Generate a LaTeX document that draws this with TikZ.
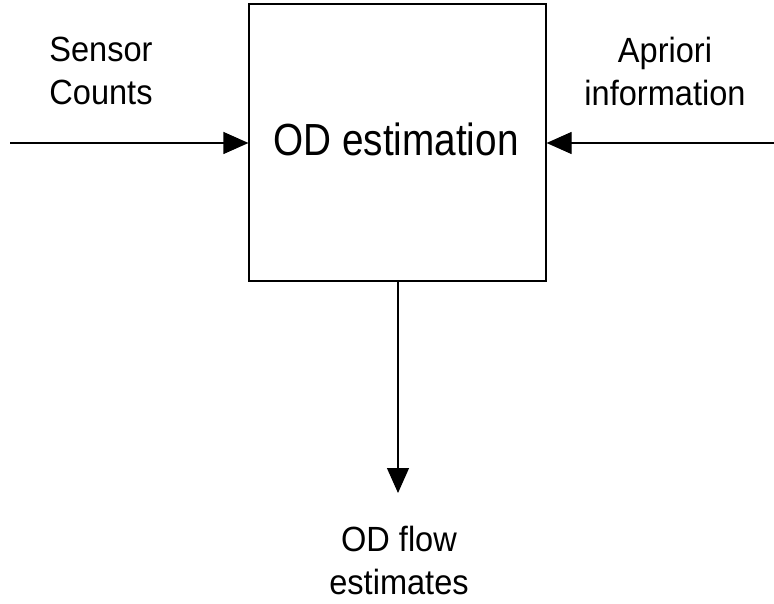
\documentclass[tikz,border=0pt]{standalone}
\usepackage{fontspec}
\setmainfont{Liberation Sans}
\newfontfamily\narrowfont[FakeStretch=0.93]{Liberation Sans}
\newfontfamily\titlefont[FakeStretch=0.86]{Liberation Sans}
\usetikzlibrary{arrows.meta}
\begin{document}
\begin{tikzpicture}[x=1pt,y=-1pt,
  lbl/.style={align=center,font=\narrowfont\fontsize{35}{43}\selectfont,inner sep=0pt},
  conn/.style={line width=1.2pt,-{Triangle[length=25pt,width=22pt]}}]
\useasboundingbox (0,0) rectangle (774,604);
\node[draw,line width=1.2pt,minimum width=297pt,minimum height=277pt,inner sep=0pt] (box) at (397.5,142.5) {};
\node[font=\titlefont\fontsize{45}{48}\selectfont,inner sep=0pt,anchor=base] (title) at (396,156) {OD estimation};
\node[lbl] (sensor) at (101,70.5) {Sensor\\Counts};
\node[lbl] (apriori) at (665,71) {Apriori\\information};
\node[lbl] (flow) at (399,560) {OD flow\\estimates};
\coordinate (lstart) at (10,143);
\coordinate (rstart) at (774,143);
\coordinate (dend) at (398,493);
\draw[conn] (lstart) -- (lstart -| box.west);
\draw[conn] (rstart) -- (rstart -| box.east);
\draw[conn] (box.south -| dend) -- (dend);
\end{tikzpicture}
\end{document}
